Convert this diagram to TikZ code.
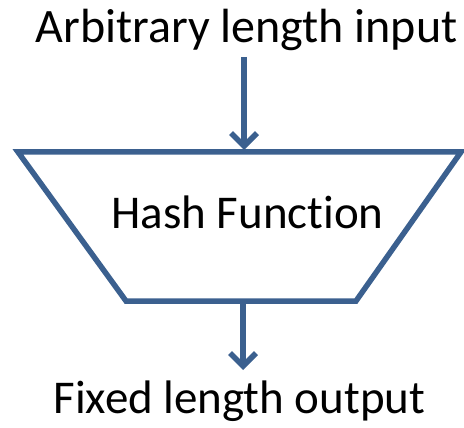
\documentclass[tikz,border=0pt]{standalone}
\usepackage{fontspec}
\setmainfont{Carlito}[Ligatures=NoCommon]
\usetikzlibrary{arrows.meta}
\definecolor{hashblue}{RGB}{59,96,143}

\begin{document}
\begin{tikzpicture}[x=1pt,y=-1pt,
  flow/.style={line width=5.5pt,hashblue},
  label/.style={inner sep=0pt,anchor=base,font=\fontsize{47}{56}\selectfont}]
  \useasboundingbox (0,0) rectangle (464,428);
  % trapezoid corners
  \coordinate (tl) at (18,152);
  \coordinate (tr) at (461,152);
  \coordinate (br) at (356,301);
  \coordinate (bl) at (126,301);
  \draw[flow,line join=miter] (tl) -- (tr) -- (br) -- (bl) -- cycle;
  \node[label] (hash) at (247.5,229) {Hash Function};
  \node[label,font=\fontsize{48}{57}\selectfont] (in) at (246.5,43) {Arbitrary length input};
  \node[label] (out) at (239.5,413) {Fixed length output};
  \coordinate (intop) at (244,57);
  \coordinate (inend) at (244,150);
  \coordinate (outtop) at (243,301);
  \coordinate (outend) at (243,370);
  \draw[flow,-{Straight Barb[length=13pt,width=26pt,line width=5.5pt]}] (intop) -- (inend);
  \draw[flow,-{Straight Barb[length=13pt,width=26pt,line width=5.5pt]}] (outtop) -- (outend);
\end{tikzpicture}
\end{document}
